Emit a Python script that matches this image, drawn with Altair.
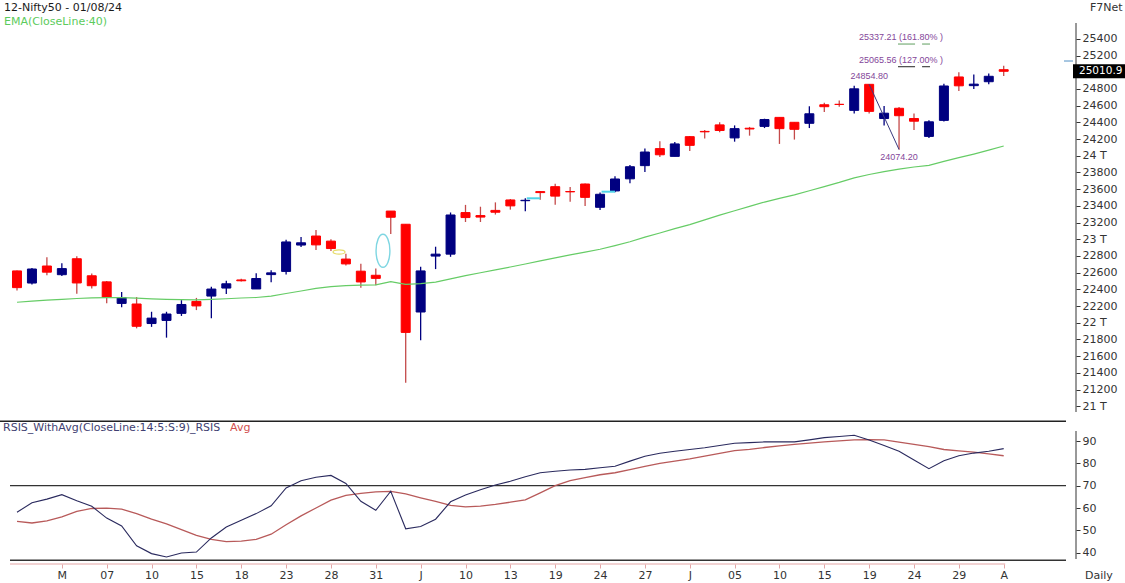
import altair as alt
import pandas as pd

# ---------------- data ----------------
day = ["26","29","30","02","03","06","07","08","09","10","13","14","15","16","17","18","21","22","23","24",
       "27","28","29","30","31","03","04","05","06","07","10","11","12","13","14","18","19","20","21","24",
       "25","26","27","28","01","02","03","04","05","08","09","10","11","12","15","16","18","19","22","23",
       "24","25","26","29","30","31","01"]
open_ = [22620,22475,22679,22575,22766,22562,22489,22231,22224,21990,22027,22112,22255,22319,22415,22512,22404,22576,22614,22930,
         23038,22977,22762,22617,22568,23337,23179,22128,22798,22821,23319,23283,23345,23470,23461,23570,23629,23571,23661,23382,
         23578,23723,23881,24085,23992,24228,24291,24369,24213,24329,24351,24459,24400,24388,24610,24615,24543,24854.8,24445,24568,
         24445,24231,24423,24943,24839,24886,25030]
high = [22625,22655,22783,22711,22795,22588,22499,22368,22307,22131,22131,22270,22297,22432,22502,22526,22592,22629,22993,23026,
        23110,22998,22825,22705,22650,23338,23179,22670,22910,23320,23411,23389,23441,23481,23490,23578,23664,23624,23667,23558,
        23754,23889,24087,24174,24164,24237,24309,24401,24363,24345,24443,24461,24402,24592,24635,24662,24837,24854.8,24595,24582,
        24504,24426,24861,24999,24971,24984,25078]
low = [22385,22459,22568,22560,22348,22409,22232,22185,21932,21950,21821,22081,22151,22054,22345,22494,22404,22483,22577,22908,
       22871,22858,22685,22418,22450,23062,21281,21791,22642,22789,23206,23206,23295,23354,23334,23471,23412,23450,23398,23350,
       23563,23670,23805,23985,23992,24056,24207,24281,24168,24240,24331,24141,24193,24331,24522,24587,24505,24505,24362,24074.2,
       24307,24211,24410,24774,24798,24856,24956]
close = [22420,22643,22605,22648,22476,22443,22303,22302,21957,22055,22104,22218,22201,22403,22466,22502,22529,22597,22967,22957,
         22932,22888,22704,22488,22531,23263,21884,22620,22821,23290,23259,23265,23323,23399,23466,23558,23516,23567,23501,23538,
         23721,23868,24044,24011,24141,24124,24286,24302,24324,24320,24433,24324,24316,24502,24587,24614,24801,24531,24509,24479,
         24413,24406,24835,24837,24857,24951,25010.9]
ema40 = [22245,22258,22270,22280,22290,22298,22300,22300,22294,22286,22280,22276,22273,22279,22287,22296,22302,22318,22350,22380,
         22410,22432,22445,22450,22452,22492,22460,22468,22485,22525,22563,22598,22632,22667,22703,22740,22777,22812,22846,22880,
         22923,22970,23024,23074,23127,23175,23231,23288,23341,23393,23445,23488,23530,23580,23630,23680,23735,23775,23810,23840,
         23865,23885,23932,23976,24019,24066,24116]
rsis = [58.1,62.4,64.0,66.0,63.3,60.8,55.5,52.0,43.1,39.6,38.1,39.9,40.3,46.6,51.5,54.5,57.5,61.0,69.0,72.2,
        73.8,74.6,71.0,63.0,59.0,67.5,50.7,51.7,55.0,62.8,65.8,68.2,70.3,72.0,74.0,75.8,76.5,77.0,77.3,78.0,
        78.7,81.0,83.2,84.5,85.4,86.2,87.0,88.0,89.0,89.3,89.6,89.6,89.6,90.5,91.5,92.0,92.6,90.5,88.0,85.4,
        81.5,77.6,81.2,83.4,84.6,85.4,86.6]
rsis_avg = [54.0,53.3,54.3,56.0,58.5,59.8,60.0,59.5,57.5,55.0,52.9,50.3,47.8,46.0,45.0,45.2,46.0,48.3,52.5,56.5,
            60.0,63.5,65.7,66.6,67.2,67.5,66.3,64.6,63.0,61.2,60.5,60.9,61.6,62.6,63.7,66.8,70.0,72.3,73.6,74.9,
            75.8,77.2,78.6,80.0,81.0,82.0,83.2,84.5,85.7,86.3,87.1,87.8,88.5,89.1,89.6,90.1,90.5,90.6,90.5,89.5,
            88.5,87.5,86.2,85.6,85.0,84.2,83.4]

tick_idx = list(range(3, 67, 3))
tick_text = ["M","07","10","15","18","23","28","31","J","10","13","19","24","27","J","05","10","15","19","24","29","A"]
price_ticks = [25400,25200,24800,24600,24400,24200,24000,23800,23600,23400,23200,23000,22800,22600,22400,22200,
               22000,21800,21600,21400,21200,21000]
rsi_ticks = [90,80,70,60,50,40]

swing_idx = [57, 59]
swing_price = [24854.80, 24074.20]
swing_text = ["24854.80", "24074.20"]
fib_level = [25337.21, 25065.56]
fib_text = ["25337.21 (161.80% )", "25065.56 (127.00% )"]
fib_seg_from = [58.93, 60.54]
fib_seg_to = [60.07, 61.07]
gap_price = [23490, 23569]
gap_from = [34.1, 39.1]
gap_to = [35.0, 40.0]
last_close = 25010.9
marker_price = 25134
ellipse_cyan = (24.48, 22861)
ellipse_yellow = (21.54, 22847)

# ---------------- styling ----------------
FONT = "DejaVu Sans"
RED = "#FF0000"
NAVY = "#000080"
RED_WICK = "#C44A4A"
EMA_COLOR = "#66CC66"
PURPLE = "#84469A"

df = pd.DataFrame({"i": list(range(len(close))), "day": day, "open": open_, "high": high,
                   "low": low, "close": close, "ema": ema40, "rsi": rsis, "avg": rsis_avg})
df["body"] = [NAVY if c >= o else RED for o, c in zip(df["open"], df["close"])]
df["wick"] = [NAVY if c >= o else RED_WICK for o, c in zip(df["open"], df["close"])]

X_SCALE = alt.Scale(domain=[-0.4682, 70.836], nice=False, zero=False, padding=0)
P_SCALE = alt.Scale(domain=[19110.2, 25864.7], nice=False, zero=False, padding=0)
R_SCALE = alt.Scale(domain=[34.95, 287.41], nice=False, zero=False, padding=0)

js_labels = "[" + ",".join("'%s'" % t for t in tick_text) + "]"
x_axis = alt.Axis(orient="bottom", values=tick_idx, labelExpr=js_labels + "[round(datum.value/3)-1]",
                  domain=False, grid=False, tickSize=4, tickColor="#E3A5A5", tickWidth=1,
                  labelFont=FONT, labelFontSize=11, labelColor="#333333", labelPadding=1,
                  labelOverlap=False, labelFlush=False, title=None)
p_axis = alt.Axis(orient="right", values=price_ticks,
                  labelExpr="datum.value % 1000 == 0 ? (datum.value/1000) + ' T' : format(datum.value, 'd')",
                  domain=False, grid=False, tickSize=4, tickColor="#333333", tickWidth=1,
                  labelFont=FONT, labelFontSize=11, labelColor="#333333", labelPadding=2,
                  labelOverlap=False, labelFlush=False, title=None)
r_axis = alt.Axis(orient="right", values=rsi_ticks, domain=False, grid=False, tickSize=4,
                  tickColor="#333333", tickWidth=1, labelFont=FONT, labelFontSize=11,
                  labelColor="#333333", labelPadding=2, labelOverlap=False, labelFlush=False, title=None)


def X(f):
    return alt.X(f, type="quantitative", scale=X_SCALE, axis=x_axis)


def XD(v):
    return alt.XDatum(v, type="quantitative", scale=X_SCALE, axis=x_axis)


def PY(f):
    return alt.Y(f, type="quantitative", scale=P_SCALE, axis=p_axis)


def PYD(v):
    return alt.YDatum(v, type="quantitative", scale=P_SCALE, axis=p_axis)


def RY(f):
    return alt.Y(f, type="quantitative", scale=R_SCALE, axis=r_axis)


def RYD(v):
    return alt.YDatum(v, type="quantitative", scale=R_SCALE, axis=r_axis)


one = pd.DataFrame({"k": [0]})


def label(text, x, y, color, size=11, font=FONT, align="left"):
    return alt.Chart(one).mark_text(text=text, align=align, baseline="middle", font=font,
                                    fontSize=size, color=color).encode(x=alt.value(x), y=alt.value(y))


def ellipse_path(rx, ry):
    k = 0.5523
    return (f"M0,{-ry} C{k*rx:.3f},{-ry} {rx},{-k*ry:.3f} {rx},0 C{rx},{k*ry:.3f} {k*rx:.3f},{ry} 0,{ry} "
            f"C{-k*rx:.3f},{ry} {-rx},{k*ry:.3f} {-rx},0 C{-rx},{-k*ry:.3f} {-k*rx:.3f},{-ry} 0,{-ry} Z")


base = alt.Chart(df)

# ---------------- price panel ----------------
wicks = base.mark_rule(strokeWidth=1.3).encode(
    x=X("i"), y=PY("low"), y2=alt.Y2("high"), color=alt.Color("wick:N", scale=None))
bodies = base.mark_bar(size=9, strokeWidth=1).encode(
    x=X("i"), y=PY("open"), y2=alt.Y2("close"),
    color=alt.Color("body:N", scale=None), stroke=alt.Stroke("body:N", scale=None))
ema_line = base.mark_line(color=EMA_COLOR, strokeWidth=1.2).encode(x=X("i"), y=PY("ema"))

swing_line = alt.Chart(one).mark_rule(color="#3A3A80", strokeWidth=1).encode(
    x=XD(swing_idx[0]), y=PYD(swing_price[0]),
    x2=alt.X2Datum(swing_idx[1]), y2=alt.Y2Datum(swing_price[1]))
swing_hi_txt = alt.Chart(one).mark_text(text=swing_text[0], font="Liberation Sans", fontSize=9,
                                        color=PURPLE, dy=-8, baseline="middle").encode(
    x=XD(swing_idx[0]), y=PYD(swing_price[0]))
swing_lo_txt = alt.Chart(one).mark_text(text=swing_text[1], font="Liberation Sans", fontSize=9,
                                        color=PURPLE, dy=7, baseline="middle").encode(
    x=XD(swing_idx[1]), y=PYD(swing_price[1]))

fib_df = pd.DataFrame({"level": fib_level, "text": fib_text, "x1": fib_seg_from, "x2": fib_seg_to})
fib_txt = alt.Chart(fib_df).mark_text(align="left", baseline="middle", font="Liberation Sans",
                                      fontSize=9, color=PURPLE, dy=-7).encode(
    x=XD(56.32), y=PY("level"), text="text:N")
fib_segs = []
for lvl, col in zip(fib_level, ["#5E9E5E", "#222222"]):
    for a, b in zip(fib_seg_from, fib_seg_to):
        fib_segs.append(alt.Chart(one).mark_rule(color=col, strokeWidth=1).encode(
            x=XD(a), x2=alt.X2Datum(b), y=PYD(lvl)))

gap_df = pd.DataFrame({"p": gap_price, "a": gap_from, "b": gap_to})
gaps = alt.Chart(gap_df).mark_rule(color="#4FD3E8", strokeWidth=2).encode(
    x=X("a"), x2=alt.X2("b"), y=PY("p"))

ell_cyan = alt.Chart(one).mark_point(shape=ellipse_path(0.42, 1.0), size=1089, filled=False,
                                     color="#7ED6E2", strokeWidth=1.4, opacity=1).encode(
    x=XD(ellipse_cyan[0]), y=PYD(ellipse_cyan[1]))
ell_yellow = alt.Chart(one).mark_point(shape=ellipse_path(1.0, 0.36), size=144, filled=False,
                                       color="#E6DC6A", strokeWidth=1.3, opacity=1).encode(
    x=XD(ellipse_yellow[0]), y=PYD(ellipse_yellow[1]))

price_axis_line = alt.Chart(one).mark_rule(color="#333333", strokeWidth=1).encode(
    x=alt.value(1066), y=alt.value(23), y2=alt.value(412))
marker = alt.Chart(one).mark_rule(color="#8AB4D8", strokeWidth=1.5).encode(
    x=alt.value(1054), x2=alt.value(1063), y=PYD(marker_price))
box = alt.Chart(one).mark_point(shape="M-1,-0.27 L1,-0.27 L1,0.27 L-1,0.27 Z", size=2704,
                                filled=True, color="#000000", opacity=1).encode(
    x=alt.value(1089), y=PYD(last_close))
box_txt = alt.Chart(one).mark_text(text=f"{last_close}", align="left", baseline="middle", font=FONT,
                                   fontSize=10.5, color="#FFFFFF").encode(
    x=alt.value(1069), y=PYD(last_close))

price_panel = alt.layer(wicks, bodies, ema_line, gaps, ell_cyan, ell_yellow, swing_line,
                        swing_hi_txt, swing_lo_txt, fib_txt, *fib_segs, price_axis_line,
                        marker, box, box_txt)

# ---------------- RSI panel ----------------
rsi_line = base.mark_line(color="#2A2A5E", strokeWidth=1.1).encode(x=X("i"), y=RY("rsi"))
avg_line = base.mark_line(color="#B85A5A", strokeWidth=1.3).encode(x=X("i"), y=RY("avg"))
sep_top = alt.Chart(one).mark_rule(color="#222222", strokeWidth=1.4).encode(
    x=alt.value(-10), x2=alt.value(1056), y=RYD(98.83))
line70 = alt.Chart(one).mark_rule(color="#333333", strokeWidth=1.2).encode(
    x=XD(-0.4682), x2=alt.value(1056), y=RYD(70))
sep_bot = alt.Chart(one).mark_rule(color="#333333", strokeWidth=1.4).encode(
    x=XD(-0.4682), x2=alt.value(1056), y=RYD(36.6))
x_base = alt.Chart(one).mark_rule(color="#E3A5A5", strokeWidth=1.2).encode(
    x=XD(-0.4682), x2=alt.X2Datum(66.1), y=alt.value(564))
rsi_axis_line = alt.Chart(one).mark_rule(color="#333333", strokeWidth=1).encode(
    x=alt.value(1066), y=alt.value(431), y2=alt.value(559))

rsi_panel = alt.layer(sep_top, line70, sep_bot, x_base, avg_line, rsi_line, rsi_axis_line)

# ---------------- texts ----------------
texts = alt.layer(
    label("12-Nifty50 - 01/08/24", -6, 8, "#1A1A1A"),
    label("EMA(CloseLine:40)", -6, 22, "#5CCB5C"),
    label("F7Net", 1080, 8, "#333333"),
    label("RSIS_WithAvg(CloseLine:14:5:S:9)_RSIS", -7, 428, "#3F3F72"),
    label("Avg", 220, 428, "#D25050"),
    label("Daily", 1075, 576, "#333333"),
)

chart = alt.layer(price_panel, rsi_panel, texts).resolve_scale(y="independent").properties(
    width=1066, height=564,
    autosize=alt.AutoSizeParams(type="none"),
    padding={"left": 10, "top": 0, "right": 49, "bottom": 19},
).configure(background="white").configure_view(stroke=None)

chart.save("out.html", embed_options={"renderer": "svg", "actions": False})
